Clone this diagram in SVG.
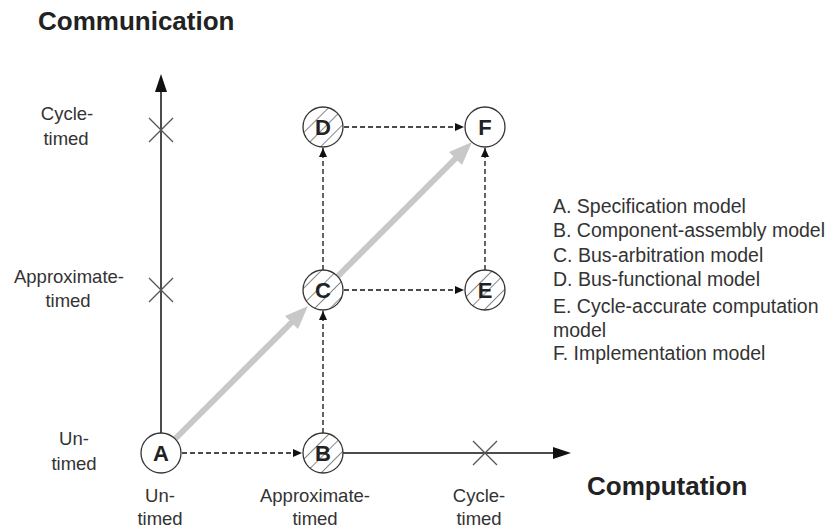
<svg xmlns="http://www.w3.org/2000/svg" width="839" height="530" viewBox="0 0 839 530">
<style>
text{font-family:"Liberation Sans",Arial,sans-serif;fill:#222}
.lbl{font-size:18.5px;text-anchor:middle;fill:#333}
.leg{font-size:19.5px;fill:#333}
.ttl{font-size:26px;font-weight:bold}
.nl{font-size:22px;font-weight:bold;text-anchor:middle}
.axis{stroke:#111;stroke-width:1.5;fill:none}
.dash{stroke:#111;stroke-width:1.3;stroke-dasharray:5,3;fill:none}
.xm{stroke:#555;stroke-width:1.3}
.circ{fill:#fff;stroke:#333;stroke-width:1.3}
.hat{fill:url(#hatch);stroke:#333;stroke-width:1.3}
</style>
<defs>
<pattern id="hatch" patternUnits="userSpaceOnUse" width="11" height="11" patternTransform="rotate(45)">
<rect width="11" height="11" fill="#fff"/>
<line x1="0" y1="0" x2="0" y2="11" stroke="#444" stroke-width="1.3"/>
</pattern>
<marker id="ahs" markerWidth="9" markerHeight="8" refX="9" refY="4" orient="auto" markerUnits="userSpaceOnUse">
<path d="M0,0 L9,4 L0,8 z" fill="#111"/>
</marker>
</defs>
<text class="ttl" x="38" y="30">Communication</text>
<text class="ttl" x="587" y="495">Computation</text>
<g id="axes">
<line class="axis" x1="161" y1="433" x2="161" y2="88"/>
<path d="M155,92 L161,74 L167,92 z" fill="#111"/>
<line class="axis" x1="343" y1="453" x2="556" y2="453"/>
<path d="M553,447 L571,453 L553,459 z" fill="#111"/>
<line class="xm" x1="149" y1="118" x2="173" y2="142"/><line class="xm" x1="173" y1="118" x2="149" y2="142"/>
<line class="xm" x1="149" y1="278" x2="173" y2="302"/><line class="xm" x1="173" y1="278" x2="149" y2="302"/>
<line class="xm" x1="473" y1="441" x2="497" y2="465"/><line class="xm" x1="497" y1="441" x2="473" y2="465"/>
</g>
<g id="axis-labels">
<text class="lbl" x="67" y="120">Cycle-</text><text class="lbl" x="66" y="145">timed</text>
<text class="lbl" x="69" y="283">Approximate-</text><text class="lbl" x="68" y="307">timed</text>
<text class="lbl" x="74" y="445">Un-</text><text class="lbl" x="74" y="470">timed</text>
<text class="lbl" x="160" y="502">Un-</text><text class="lbl" x="160" y="525">timed</text>
<text class="lbl" x="315" y="502">Approximate-</text><text class="lbl" x="315" y="525">timed</text>
<text class="lbl" x="479" y="502">Cycle-</text><text class="lbl" x="479" y="525">timed</text>
</g>
<g id="connectors">
<line x1="175" y1="439" x2="296" y2="318" stroke="#c8c8c8" stroke-width="6"/>
<path d="M308,306 L285,316 L298,329 z" fill="#c8c8c8"/>
<line x1="337" y1="277" x2="458" y2="156" stroke="#c8c8c8" stroke-width="6"/>
<path d="M472,142 L449,152 L462,165 z" fill="#c8c8c8"/>
<line class="dash" x1="182" y1="453" x2="302" y2="453" marker-end="url(#ahs)"/>
<line class="dash" x1="323" y1="433" x2="323" y2="311" marker-end="url(#ahs)"/>
<line class="dash" x1="323" y1="270" x2="323" y2="148" marker-end="url(#ahs)"/>
<line class="dash" x1="344" y1="290" x2="464" y2="290" marker-end="url(#ahs)"/>
<line class="dash" x1="344" y1="127" x2="464" y2="127" marker-end="url(#ahs)"/>
<line class="dash" x1="485" y1="270" x2="485" y2="148" marker-end="url(#ahs)"/>
</g>
<g id="node-A"><circle class="circ" cx="161" cy="453" r="20" stroke="#bbb"/><text class="nl" x="161" y="461">A</text></g>
<g id="node-B"><circle class="hat" cx="323" cy="453" r="20"/><text class="nl" x="323" y="461">B</text></g>
<g id="node-C"><circle class="hat" cx="323" cy="290" r="20"/><text class="nl" x="323" y="298">C</text></g>
<g id="node-D"><circle class="hat" cx="323" cy="127" r="20"/><text class="nl" x="323" y="135">D</text></g>
<g id="node-E"><circle class="hat" cx="485" cy="290" r="20"/><text class="nl" x="485" y="298">E</text></g>
<g id="node-F"><circle class="circ" cx="485" cy="127" r="20"/><text class="nl" x="485" y="135">F</text></g>
<g id="legend">
<text class="leg" x="553" y="213">A. Specification model</text>
<text class="leg" x="553" y="237">B. Component-assembly model</text>
<text class="leg" x="553" y="262">C. Bus-arbitration model</text>
<text class="leg" x="553" y="286">D. Bus-functional model</text>
<text class="leg" x="553" y="313">E. Cycle-accurate computation</text>
<text class="leg" x="553" y="337">model</text>
<text class="leg" x="553" y="360">F. Implementation model</text>
</g>
</svg>
